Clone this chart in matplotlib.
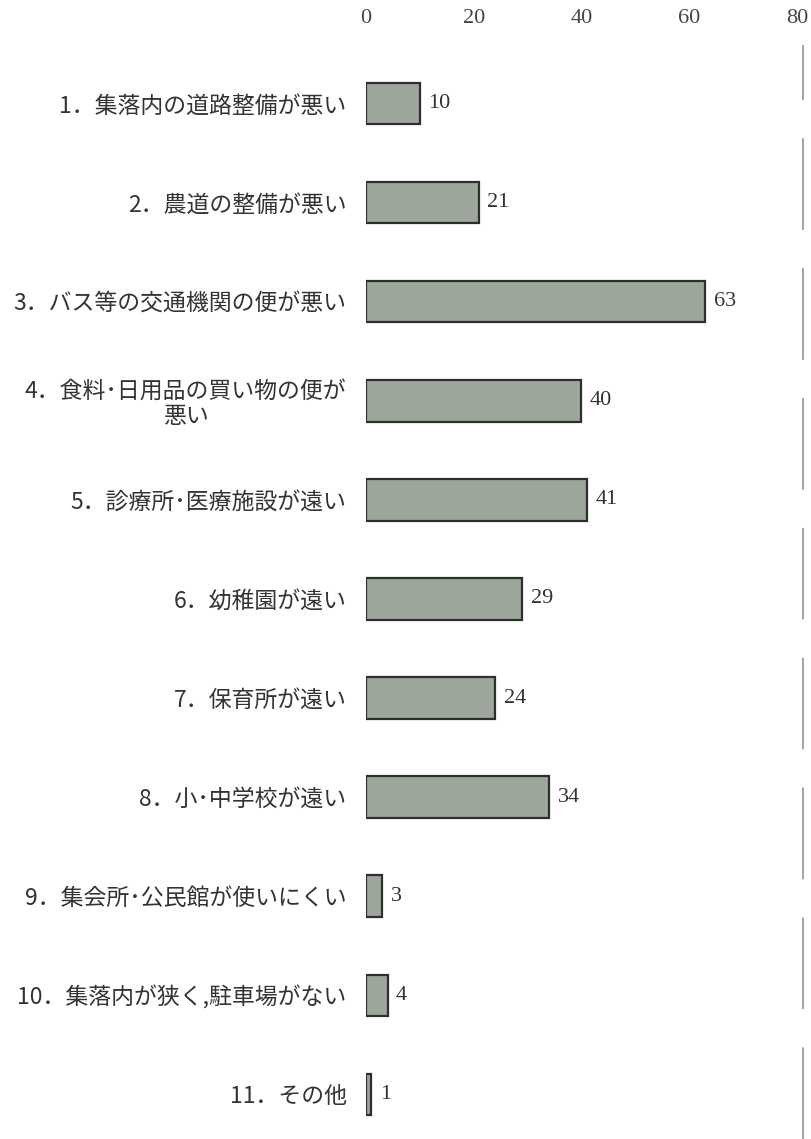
import matplotlib
matplotlib.use('Agg')
import matplotlib.pyplot as plt

plt.rcParams['font.family'] = ['Noto Sans CJK JP', 'DejaVu Sans']

# データ
categories = [
    '1．集落内の道路整備が悪い',
    '2．農道の整備が悪い',
    '3．バス等の交通機関の便が悪い',
    '4．食料･日用品の買い物の便が\n悪い',
    '5．診療所･医療施設が遠い',
    '6．幼稚園が遠い',
    '7．保育所が遠い',
    '8．小･中学校が遠い',
    '9．集会所･公民館が使いにくい',
    '10．集落内が狭く,駐車場がない',
    '11．その他',
]
values = [10, 21, 63, 40, 41, 29, 24, 34, 3, 4, 1]
x_ticks = [0, 20, 40, 60, 80]

fig = plt.figure(figsize=(8.12, 11.39), dpi=100)
ax = fig.add_axes([366 / 812, 0.0, (797 - 366) / 812, 1 - 45 / 1139])

pos = list(range(len(categories)))
ax.barh(pos, values, height=0.42, color='#9ca69a', edgecolor='#2e2e2e',
        linewidth=1.6)

for y, v in zip(pos, values):
    ax.annotate(str(v), (v, y), xytext=(6, 0), textcoords='offset points',
                ha='left', va='center', fontsize=16,
                family='Liberation Serif', color='#333333')

ax.set_xlim(0, 80)
ax.set_ylim(10.45, -0.59)
ax.set_xticks(x_ticks)
ax.xaxis.tick_top()
ax.tick_params(axis='x', length=0, pad=12, labelsize=16, colors='#444444')
for lab in ax.get_xticklabels():
    lab.set_family('Liberation Serif')

ax.set_yticks(pos)
ax.set_yticklabels(categories, fontsize=16.5, color='#333333',
                   multialignment='center', linespacing=1.1)
ax.tick_params(axis='y', length=0, pad=14)

for s in ax.spines.values():
    s.set_visible(False)

# 右側の破線
ax.axvline(81.2, color='#8a8a8a', linewidth=1.1, linestyle=(0, (60, 25)),
           clip_on=False)

fig.savefig('out.png', dpi=100)
plt.close(fig)
